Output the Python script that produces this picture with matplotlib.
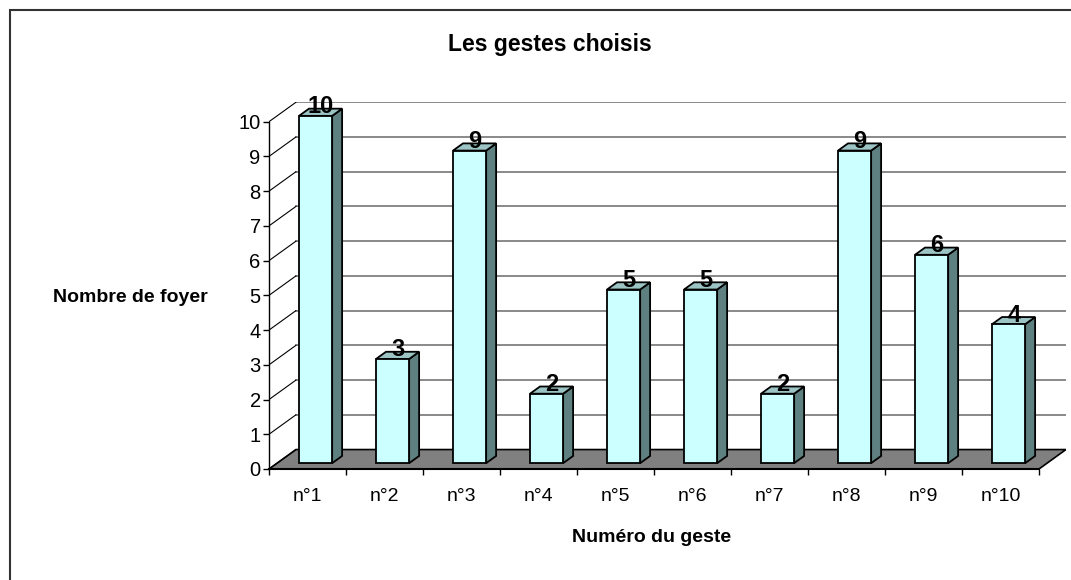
import numpy as np
import matplotlib.pyplot as plt
from matplotlib.patches import Polygon, Rectangle

plt.rcParams['font.family'] = ['Liberation Sans', 'DejaVu Sans']

# data
gestes = ['n°1', 'n°2', 'n°3', 'n°4', 'n°5', 'n°6', 'n°7', 'n°8', 'n°9', 'n°10']
foyers = [10, 3, 9, 2, 5, 5, 2, 9, 6, 4]
y_ticks = list(range(0, 11))

# 3d look (oblique projection in data units)
DX, DY = 0.35, 0.56      # full depth offset
D0, D1 = 0.30, 0.67      # bar front / back depth
BW = 0.43                # bar width

front_col = '#CCFFFF'
side_col = '#5F8080'
top_col = '#9CC4C4'

fig = plt.figure(figsize=(10.71, 5.8), dpi=100)
ax = fig.add_axes([269 / 1071, 111 / 580, 797 / 1071, 367 / 580])
n = len(gestes)
ax.set_xlim(0, 797 / 77)
ax.set_ylim(0, 367 / 34.73)

# floor
ax.add_patch(Polygon([(0, 0), (n, 0), (n + DX, DY), (DX, DY)], closed=True,
                     facecolor='#808080', edgecolor='black', lw=1.2, zorder=1))

# back wall gridlines + side wall diagonals
for v in y_ticks[1:]:
    ax.plot([DX, n + DX], [v + DY, v + DY], color='#808080', lw=1.3, zorder=1)
for v in y_ticks:
    ax.plot([0, DX], [v, v + DY], color='black', lw=0.8, zorder=1)

# bars
for i, v in enumerate(foyers):
    c = i + 0.5
    x0 = c - BW / 2
    x1 = c + BW / 2
    fx, fy = D0 * DX, D0 * DY
    bx, by = D1 * DX, D1 * DY
    front = [(x0 + fx, fy), (x1 + fx, fy), (x1 + fx, v + fy), (x0 + fx, v + fy)]
    side = [(x1 + fx, fy), (x1 + bx, by), (x1 + bx, v + by), (x1 + fx, v + fy)]
    top = [(x0 + fx, v + fy), (x1 + fx, v + fy), (x1 + bx, v + by), (x0 + bx, v + by)]
    for pts, col in [(side, side_col), (top, top_col), (front, front_col)]:
        ax.add_patch(Polygon(pts, closed=True, facecolor=col, edgecolor='black',
                             lw=1.3, zorder=3, joinstyle='miter'))
    ax.text(c + 0.5 * DX, v + 0.43, str(v), ha='center', va='center',
            fontsize=17, fontweight='bold', zorder=5)

# axes
for s in ['top', 'right']:
    ax.spines[s].set_visible(False)
ax.spines['left'].set_bounds(0, 10)
ax.spines['bottom'].set_bounds(0, n)
ax.spines['left'].set_zorder(2)
ax.spines['bottom'].set_zorder(2)
ax.spines['left'].set_linewidth(1.0)
ax.spines['bottom'].set_linewidth(1.5)
ax.set_yticks(y_ticks)
ax.tick_params(axis='y', length=4.5, width=1, pad=1.5, labelsize=14.5)
ax.set_xticks(np.arange(0, n + 1))
ax.set_xticklabels([])
ax.set_xticks(np.arange(n) + 0.5, minor=True)
ax.set_xticklabels(gestes, minor=True)
ax.tick_params(axis='x', which='major', length=4.5, width=1)
ax.tick_params(axis='x', which='minor', length=0, pad=14, labelsize=14)

fig.text(550 / 1071, 1 - 44.5 / 580, 'Les gestes choisis', ha='center', va='center',
         fontsize=16.5, fontweight='bold')
fig.text(130 / 1071, 1 - 297 / 580, 'Nombre de foyer', ha='center', va='center',
         fontsize=14, fontweight='bold')
fig.text(652 / 1071, 1 - 537 / 580, 'Numéro du geste', ha='center', va='center',
         fontsize=14, fontweight='bold')

# outer chart border (only left/top visible)
fig.patches.append(Rectangle((10 / 1071, -0.2), 1.2, 570 / 580 + 0.2,
                             transform=fig.transFigure, fill=False,
                             edgecolor='#333333', lw=1.5))

fig.savefig('out.png', dpi=100)
